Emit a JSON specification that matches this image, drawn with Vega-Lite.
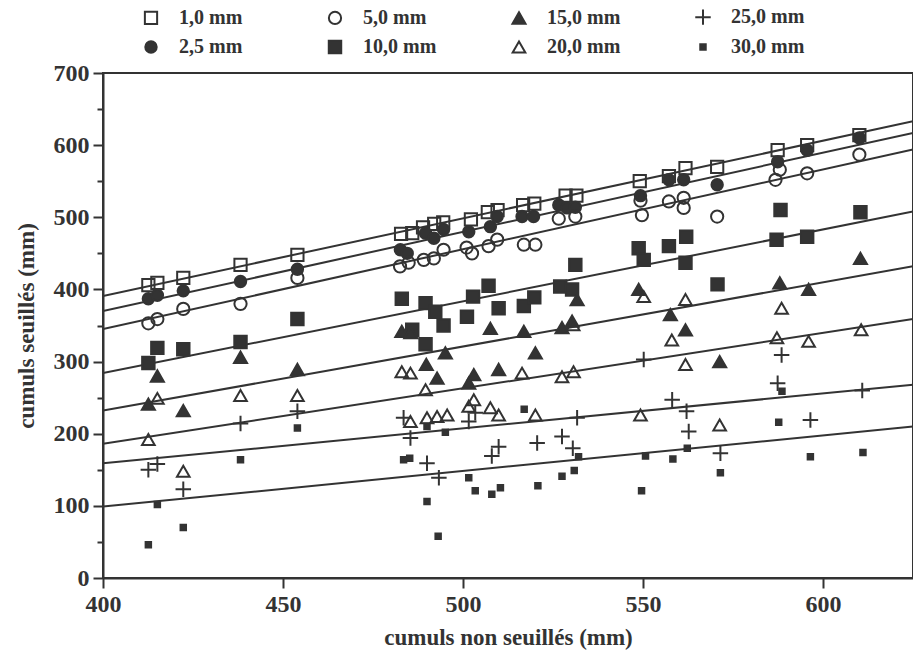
{
  "$schema": "https://vega.github.io/schema/vega-lite/v6.json",
  "width": 810,
  "height": 505,
  "autosize": {"type": "none"},
  "padding": {"left": 103, "top": 73, "right": 0, "bottom": 76},
  "background": "white",
  "config": {
    "view": {"stroke": "#333", "strokeWidth": 2},
    "font": "Liberation Serif"
  },
  "datasets": {
    "fit": [
      {"s": "1,0 mm", "x": 400, "y": 391}, {"s": "1,0 mm", "x": 625, "y": 633},
      {"s": "2,5 mm", "x": 400, "y": 370}, {"s": "2,5 mm", "x": 625, "y": 617},
      {"s": "5,0 mm", "x": 400, "y": 345}, {"s": "5,0 mm", "x": 625, "y": 594},
      {"s": "10,0 mm", "x": 400, "y": 284}, {"s": "10,0 mm", "x": 625, "y": 508},
      {"s": "15,0 mm", "x": 400, "y": 232}, {"s": "15,0 mm", "x": 625, "y": 432},
      {"s": "20,0 mm", "x": 400, "y": 186}, {"s": "20,0 mm", "x": 625, "y": 359},
      {"s": "25,0 mm", "x": 400, "y": 159}, {"s": "25,0 mm", "x": 625, "y": 268},
      {"s": "30,0 mm", "x": 400, "y": 99}, {"s": "30,0 mm", "x": 625, "y": 210}
    ],
    "pts": [
      {"s": "1,0 mm", "x": 412.6, "y": 406}, {"s": "1,0 mm", "x": 415.1, "y": 409}, {"s": "1,0 mm", "x": 422.3, "y": 416}, {"s": "1,0 mm", "x": 438.2, "y": 434}, {"s": "1,0 mm", "x": 454, "y": 448},
      {"s": "1,0 mm", "x": 482.8, "y": 477}, {"s": "1,0 mm", "x": 485.9, "y": 478}, {"s": "1,0 mm", "x": 488.9, "y": 486}, {"s": "1,0 mm", "x": 492, "y": 491}, {"s": "1,0 mm", "x": 494.5, "y": 493},
      {"s": "1,0 mm", "x": 502.2, "y": 497}, {"s": "1,0 mm", "x": 506.9, "y": 507}, {"s": "1,0 mm", "x": 509.6, "y": 510}, {"s": "1,0 mm", "x": 516.7, "y": 517}, {"s": "1,0 mm", "x": 519.8, "y": 519},
      {"s": "1,0 mm", "x": 528.5, "y": 530}, {"s": "1,0 mm", "x": 531.5, "y": 530}, {"s": "1,0 mm", "x": 549.1, "y": 550}, {"s": "1,0 mm", "x": 557.2, "y": 557}, {"s": "1,0 mm", "x": 561.8, "y": 568},
      {"s": "1,0 mm", "x": 570.6, "y": 570}, {"s": "1,0 mm", "x": 587.4, "y": 593}, {"s": "1,0 mm", "x": 595.6, "y": 600}, {"s": "1,0 mm", "x": 610.1, "y": 614},

      {"s": "2,5 mm", "x": 412.6, "y": 387}, {"s": "2,5 mm", "x": 415.1, "y": 392}, {"s": "2,5 mm", "x": 422.3, "y": 398}, {"s": "2,5 mm", "x": 438.2, "y": 411}, {"s": "2,5 mm", "x": 454, "y": 428},
      {"s": "2,5 mm", "x": 482.6, "y": 455}, {"s": "2,5 mm", "x": 484.5, "y": 450}, {"s": "2,5 mm", "x": 489.6, "y": 478}, {"s": "2,5 mm", "x": 491.9, "y": 471}, {"s": "2,5 mm", "x": 494.6, "y": 483},
      {"s": "2,5 mm", "x": 501.6, "y": 480}, {"s": "2,5 mm", "x": 507.6, "y": 487}, {"s": "2,5 mm", "x": 509.5, "y": 501}, {"s": "2,5 mm", "x": 516.4, "y": 501}, {"s": "2,5 mm", "x": 519.6, "y": 501},
      {"s": "2,5 mm", "x": 526.6, "y": 517}, {"s": "2,5 mm", "x": 528.9, "y": 513}, {"s": "2,5 mm", "x": 531.2, "y": 514}, {"s": "2,5 mm", "x": 549.3, "y": 530}, {"s": "2,5 mm", "x": 557.2, "y": 552},
      {"s": "2,5 mm", "x": 561.3, "y": 552}, {"s": "2,5 mm", "x": 570.6, "y": 545}, {"s": "2,5 mm", "x": 587.4, "y": 577}, {"s": "2,5 mm", "x": 595.6, "y": 593}, {"s": "2,5 mm", "x": 610.1, "y": 610},

      {"s": "5,0 mm", "x": 412.6, "y": 353}, {"s": "5,0 mm", "x": 415.1, "y": 359}, {"s": "5,0 mm", "x": 422.3, "y": 373}, {"s": "5,0 mm", "x": 438.2, "y": 380}, {"s": "5,0 mm", "x": 454, "y": 416},
      {"s": "5,0 mm", "x": 482.5, "y": 432}, {"s": "5,0 mm", "x": 484.9, "y": 437}, {"s": "5,0 mm", "x": 489.1, "y": 441}, {"s": "5,0 mm", "x": 491.9, "y": 443}, {"s": "5,0 mm", "x": 494.6, "y": 455},
      {"s": "5,0 mm", "x": 501, "y": 458}, {"s": "5,0 mm", "x": 502.5, "y": 450}, {"s": "5,0 mm", "x": 507.1, "y": 460}, {"s": "5,0 mm", "x": 509.5, "y": 469}, {"s": "5,0 mm", "x": 516.9, "y": 462},
      {"s": "5,0 mm", "x": 520.1, "y": 462}, {"s": "5,0 mm", "x": 526.6, "y": 498}, {"s": "5,0 mm", "x": 531.2, "y": 501}, {"s": "5,0 mm", "x": 549.3, "y": 523}, {"s": "5,0 mm", "x": 549.7, "y": 503},
      {"s": "5,0 mm", "x": 557.2, "y": 522}, {"s": "5,0 mm", "x": 561.3, "y": 527}, {"s": "5,0 mm", "x": 561.3, "y": 513}, {"s": "5,0 mm", "x": 570.6, "y": 501}, {"s": "5,0 mm", "x": 586.8, "y": 552},
      {"s": "5,0 mm", "x": 588, "y": 566}, {"s": "5,0 mm", "x": 595.6, "y": 561}, {"s": "5,0 mm", "x": 610.1, "y": 587},

      {"s": "10,0 mm", "x": 412.6, "y": 298}, {"s": "10,0 mm", "x": 415.1, "y": 319}, {"s": "10,0 mm", "x": 422.3, "y": 317}, {"s": "10,0 mm", "x": 438.2, "y": 327}, {"s": "10,0 mm", "x": 454, "y": 359},
      {"s": "10,0 mm", "x": 483, "y": 387}, {"s": "10,0 mm", "x": 485.9, "y": 344}, {"s": "10,0 mm", "x": 489.6, "y": 381}, {"s": "10,0 mm", "x": 492.3, "y": 369}, {"s": "10,0 mm", "x": 494.6, "y": 350},
      {"s": "10,0 mm", "x": 489.6, "y": 324}, {"s": "10,0 mm", "x": 501.1, "y": 362}, {"s": "10,0 mm", "x": 502.8, "y": 390}, {"s": "10,0 mm", "x": 507.1, "y": 405}, {"s": "10,0 mm", "x": 509.9, "y": 374},
      {"s": "10,0 mm", "x": 516.9, "y": 377}, {"s": "10,0 mm", "x": 519.8, "y": 389}, {"s": "10,0 mm", "x": 527, "y": 404}, {"s": "10,0 mm", "x": 530.3, "y": 400}, {"s": "10,0 mm", "x": 531.2, "y": 434},
      {"s": "10,0 mm", "x": 548.8, "y": 457}, {"s": "10,0 mm", "x": 550.2, "y": 441}, {"s": "10,0 mm", "x": 557.2, "y": 460}, {"s": "10,0 mm", "x": 562, "y": 473}, {"s": "10,0 mm", "x": 561.8, "y": 437},
      {"s": "10,0 mm", "x": 570.7, "y": 407}, {"s": "10,0 mm", "x": 587.1, "y": 469}, {"s": "10,0 mm", "x": 588.2, "y": 510}, {"s": "10,0 mm", "x": 595.6, "y": 473}, {"s": "10,0 mm", "x": 610.4, "y": 507},

      {"s": "15,0 mm", "x": 412.6, "y": 241}, {"s": "15,0 mm", "x": 415.1, "y": 280}, {"s": "15,0 mm", "x": 422.3, "y": 232}, {"s": "15,0 mm", "x": 438.2, "y": 306}, {"s": "15,0 mm", "x": 454, "y": 289},
      {"s": "15,0 mm", "x": 483, "y": 342}, {"s": "15,0 mm", "x": 485.5, "y": 340}, {"s": "15,0 mm", "x": 489.8, "y": 296}, {"s": "15,0 mm", "x": 492.8, "y": 277}, {"s": "15,0 mm", "x": 495.1, "y": 312},
      {"s": "15,0 mm", "x": 501.6, "y": 270}, {"s": "15,0 mm", "x": 503, "y": 282}, {"s": "15,0 mm", "x": 507.6, "y": 346}, {"s": "15,0 mm", "x": 509.9, "y": 289}, {"s": "15,0 mm", "x": 516.9, "y": 342},
      {"s": "15,0 mm", "x": 520.1, "y": 312}, {"s": "15,0 mm", "x": 527.5, "y": 347}, {"s": "15,0 mm", "x": 530.3, "y": 356}, {"s": "15,0 mm", "x": 531.7, "y": 386}, {"s": "15,0 mm", "x": 548.8, "y": 400},
      {"s": "15,0 mm", "x": 557.6, "y": 365}, {"s": "15,0 mm", "x": 561.8, "y": 344}, {"s": "15,0 mm", "x": 571.3, "y": 300}, {"s": "15,0 mm", "x": 588, "y": 409}, {"s": "15,0 mm", "x": 596, "y": 400},
      {"s": "15,0 mm", "x": 610.4, "y": 443},

      {"s": "20,0 mm", "x": 412.6, "y": 192}, {"s": "20,0 mm", "x": 415.1, "y": 249}, {"s": "20,0 mm", "x": 422.3, "y": 148}, {"s": "20,0 mm", "x": 438.2, "y": 253}, {"s": "20,0 mm", "x": 454, "y": 253},
      {"s": "20,0 mm", "x": 483, "y": 286}, {"s": "20,0 mm", "x": 485.4, "y": 284}, {"s": "20,0 mm", "x": 489.6, "y": 261}, {"s": "20,0 mm", "x": 485.4, "y": 217}, {"s": "20,0 mm", "x": 490, "y": 222},
      {"s": "20,0 mm", "x": 492.8, "y": 224}, {"s": "20,0 mm", "x": 495.6, "y": 226}, {"s": "20,0 mm", "x": 501.6, "y": 238}, {"s": "20,0 mm", "x": 503, "y": 247}, {"s": "20,0 mm", "x": 507.6, "y": 236},
      {"s": "20,0 mm", "x": 509.9, "y": 226}, {"s": "20,0 mm", "x": 516.4, "y": 284}, {"s": "20,0 mm", "x": 520.1, "y": 226}, {"s": "20,0 mm", "x": 527.5, "y": 279}, {"s": "20,0 mm", "x": 530.7, "y": 286},
      {"s": "20,0 mm", "x": 530.6, "y": 351}, {"s": "20,0 mm", "x": 550.2, "y": 390}, {"s": "20,0 mm", "x": 549.3, "y": 226}, {"s": "20,0 mm", "x": 558, "y": 330}, {"s": "20,0 mm", "x": 561.8, "y": 386},
      {"s": "20,0 mm", "x": 561.8, "y": 296}, {"s": "20,0 mm", "x": 571.3, "y": 212}, {"s": "20,0 mm", "x": 587.2, "y": 333}, {"s": "20,0 mm", "x": 588.5, "y": 374}, {"s": "20,0 mm", "x": 596, "y": 328},
      {"s": "20,0 mm", "x": 610.6, "y": 344},

      {"s": "25,0 mm", "x": 412.6, "y": 150}, {"s": "25,0 mm", "x": 415.1, "y": 158}, {"s": "25,0 mm", "x": 422.3, "y": 123}, {"s": "25,0 mm", "x": 438.2, "y": 214}, {"s": "25,0 mm", "x": 454, "y": 231},
      {"s": "25,0 mm", "x": 483.5, "y": 222}, {"s": "25,0 mm", "x": 485.4, "y": 194}, {"s": "25,0 mm", "x": 490, "y": 159}, {"s": "25,0 mm", "x": 493.3, "y": 139}, {"s": "25,0 mm", "x": 501.6, "y": 217},
      {"s": "25,0 mm", "x": 503.4, "y": 229}, {"s": "25,0 mm", "x": 508, "y": 169}, {"s": "25,0 mm", "x": 509.9, "y": 182}, {"s": "25,0 mm", "x": 520.6, "y": 187}, {"s": "25,0 mm", "x": 527.5, "y": 196},
      {"s": "25,0 mm", "x": 530.5, "y": 180}, {"s": "25,0 mm", "x": 531.7, "y": 222}, {"s": "25,0 mm", "x": 550.2, "y": 303}, {"s": "25,0 mm", "x": 558.1, "y": 247}, {"s": "25,0 mm", "x": 562.1, "y": 231},
      {"s": "25,0 mm", "x": 562.7, "y": 203}, {"s": "25,0 mm", "x": 571.5, "y": 173}, {"s": "25,0 mm", "x": 587.4, "y": 270}, {"s": "25,0 mm", "x": 588.5, "y": 309}, {"s": "25,0 mm", "x": 596.5, "y": 219},
      {"s": "25,0 mm", "x": 610.9, "y": 260},

      {"s": "30,0 mm", "x": 412.6, "y": 46}, {"s": "30,0 mm", "x": 415.1, "y": 102}, {"s": "30,0 mm", "x": 422.3, "y": 70}, {"s": "30,0 mm", "x": 438.2, "y": 164}, {"s": "30,0 mm", "x": 454, "y": 208},
      {"s": "30,0 mm", "x": 483.5, "y": 164}, {"s": "30,0 mm", "x": 485.2, "y": 166}, {"s": "30,0 mm", "x": 490, "y": 210}, {"s": "30,0 mm", "x": 495.1, "y": 202}, {"s": "30,0 mm", "x": 490, "y": 106},
      {"s": "30,0 mm", "x": 493.1, "y": 58}, {"s": "30,0 mm", "x": 501.6, "y": 139}, {"s": "30,0 mm", "x": 503.4, "y": 121}, {"s": "30,0 mm", "x": 508, "y": 116}, {"s": "30,0 mm", "x": 510.4, "y": 125},
      {"s": "30,0 mm", "x": 517, "y": 234}, {"s": "30,0 mm", "x": 520.8, "y": 128}, {"s": "30,0 mm", "x": 527.5, "y": 141}, {"s": "30,0 mm", "x": 530.9, "y": 149}, {"s": "30,0 mm", "x": 532.1, "y": 168},
      {"s": "30,0 mm", "x": 550.7, "y": 169}, {"s": "30,0 mm", "x": 549.6, "y": 121}, {"s": "30,0 mm", "x": 558.3, "y": 165}, {"s": "30,0 mm", "x": 562.3, "y": 180}, {"s": "30,0 mm", "x": 571.5, "y": 146},
      {"s": "30,0 mm", "x": 587.7, "y": 216}, {"s": "30,0 mm", "x": 588.6, "y": 259}, {"s": "30,0 mm", "x": 596.5, "y": 168}, {"s": "30,0 mm", "x": 611.1, "y": 174}
    ]
  },
  "resolve": {"axis": {"y": "independent"}},
  "layer": [
    {
      "data": {"name": "fit"},
      "mark": {"type": "line", "color": "#333", "strokeWidth": 2, "clip": true},
      "encoding": {
        "x": {"field": "x", "type": "quantitative", "scale": {"domain": [400, 625], "nice": false, "zero": false},
          "axis": {"title": "cumuls non seuillés (mm)", "values": [400, 450, 500, 550, 600], "grid": false,
            "labelFontSize": 24, "labelFontWeight": "bold", "labelColor": "#333", "labelPadding": 4, "labelFlush": false,
            "titleFontSize": 23, "titleFontWeight": "bold", "titleColor": "#333", "titlePadding": 10,
            "tickSize": 10, "tickWidth": 2, "tickColor": "#333", "domainColor": "#333", "domainWidth": 2}},
        "y": {"field": "y", "type": "quantitative", "scale": {"domain": [0, 700], "nice": false},
          "axis": {"orient": "left", "values": [50, 150, 250, 350, 450, 550, 650], "labels": false, "title": null, "grid": false,
            "domain": false, "tickSize": 6, "tickWidth": 2, "tickColor": "#333"}},
        "detail": {"field": "s"}
      }
    },
    {
      "data": {"name": "pts"},
      "mark": {"type": "point", "stroke": "#333", "strokeWidth": 2, "opacity": 1},
      "encoding": {
        "x": {"field": "x", "type": "quantitative"},
        "y": {"field": "y", "type": "quantitative",
          "axis": {"orient": "left", "title": "cumuls seuillés (mm)", "values": [0, 100, 200, 300, 400, 500, 600, 700], "grid": false,
            "labelFontSize": 24, "labelFontWeight": "bold", "labelColor": "#333", "labelPadding": 4,
            "titleFontSize": 23, "titleFontWeight": "bold", "titleColor": "#333", "titlePadding": 15,
            "tickSize": 10, "tickWidth": 2, "tickColor": "#333", "domainColor": "#333", "domainWidth": 2}},
        "shape": {"field": "s", "type": "nominal",
          "scale": {"domain": ["1,0 mm", "5,0 mm", "15,0 mm", "25,0 mm", "2,5 mm", "10,0 mm", "20,0 mm", "30,0 mm"],
            "range": ["square", "circle", "triangle-up", "M-1,0H1M0,-1V1", "circle", "square", "triangle-up", "square"]},
          "legend": {"title": null, "orient": "none", "legendX": 38, "legendY": -66, "columns": 4, "direction": "horizontal",
            "gridAlign": "all", "columnPadding": 70, "rowPadding": 7, "labelOffset": 18,
            "labelFont": "Liberation Serif", "labelFontSize": 20, "labelFontWeight": "bold", "labelColor": "#333",
            "symbolStrokeColor": "#333", "symbolStrokeWidth": 2}},
        "fill": {"field": "s", "type": "nominal",
          "scale": {"domain": ["1,0 mm", "5,0 mm", "15,0 mm", "25,0 mm", "2,5 mm", "10,0 mm", "20,0 mm", "30,0 mm"],
            "range": ["transparent", "transparent", "#333", "#333", "#333", "#333", "transparent", "#333"]}},
        "size": {"field": "s", "type": "nominal",
          "scale": {"type": "ordinal", "domain": ["1,0 mm", "5,0 mm", "15,0 mm", "25,0 mm", "2,5 mm", "10,0 mm", "20,0 mm", "30,0 mm"],
            "range": [150, 150, 170, 240, 130, 155, 160, 30]}}
      }
    }
  ]
}
